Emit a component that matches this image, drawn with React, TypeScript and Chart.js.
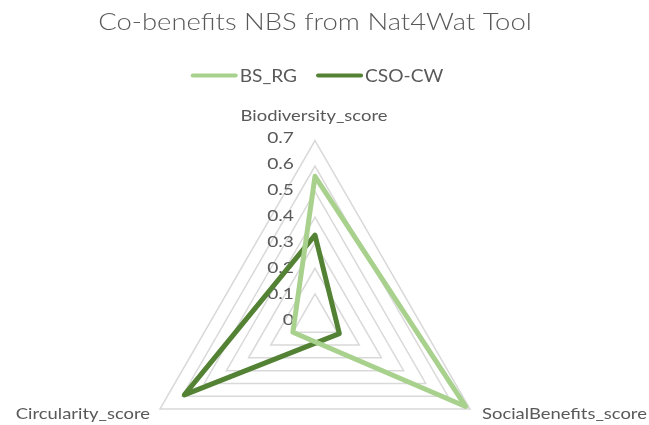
import React, { useEffect, useRef } from 'react';
import { Chart, registerables } from 'chart.js';

Chart.register(...registerables);

// ---- data ----
const chartTitle = 'Co-benefits NBS from Nat4Wat Tool';
const categories = ['Biodiversity_score', 'SocialBenefits_score', 'Circularity_score'];
const seriesNames = ['BS_RG', 'CSO-CW'];
const bsRgValues = [0.56, 0.68, 0.1];
const csoCwValues = [0.33, 0.11, 0.59];
const tickValues = [0, 0.1, 0.2, 0.3, 0.4, 0.5, 0.6, 0.7];
const tickLabels = ['0', '0.1', '0.2', '0.3', '0.4', '0.5', '0.6', '0.7'];

// ---- style ----
const FONT = 'Lato, "Open Sans", sans-serif';
const TEXT = '#595959';
const LIGHT_GREEN = '#A9D18E';
const DARK_GREEN = '#548235';
const GRID = '#D9D9D9';

// draw text with a horizontal stretch (the reference text is wider than the font)
function stretchedText(
  ctx: CanvasRenderingContext2D,
  text: string,
  x: number,
  y: number,
  font: string,
  align: 'left' | 'right' | 'center',
  sx: number
) {
  ctx.save();
  ctx.font = font;
  ctx.textAlign = 'left';
  ctx.textBaseline = 'alphabetic';
  const w = ctx.measureText(text).width * sx;
  const left = align === 'center' ? x - w / 2 : align === 'right' ? x - w : x;
  ctx.translate(left, y);
  ctx.scale(sx, 1);
  ctx.fillText(text, 0, 0);
  ctx.restore();
  return w;
}

const textPlugin = {
  id: 'excelRadarText',
  beforeDatasetsDraw(chart: any) {
    const scale = chart.scales.r;
    const ctx: CanvasRenderingContext2D = chart.ctx;
    ctx.save();
    ctx.fillStyle = TEXT;
    tickValues.forEach((v, i) => {
      const y = scale.yCenter - scale.getDistanceFromCenterForValue(v);
      stretchedText(ctx, tickLabels[i], scale.xCenter - 21, y + 5.5 - i * 0.4, `16px ${FONT}`, 'right', 1.2);
    });
    ctx.restore();
  },
  afterDraw(chart: any) {
    const scale = chart.scales.r;
    const ctx: CanvasRenderingContext2D = chart.ctx;
    const W = chart.width;
    ctx.save();
    ctx.fillStyle = TEXT;

    // title
    stretchedText(ctx, chartTitle, W / 2 - 9.5, 30, `300 22.5px ${FONT}`, 'center', 1.22);

    // legend
    const legendFont = `16.5px ${FONT}`;
    const lineLen = 47;
    const gapText = 2;
    const gapItem = 19;
    const sxL = 1.16;
    ctx.font = legendFont;
    const widths = seriesNames.map((n) => ctx.measureText(n).width * sxL);
    const total = widths.reduce((a, b) => a + b, 0) + seriesNames.length * (lineLen + gapText) + gapItem * (seriesNames.length - 1);
    let x = W / 2 - 7.5 - total / 2;
    const ly = 75.5;
    chart.data.datasets.forEach((ds: any, i: number) => {
      ctx.save();
      ctx.strokeStyle = ds.borderColor;
      ctx.lineWidth = 4;
      ctx.lineCap = 'round';
      ctx.beginPath();
      ctx.moveTo(x + 2, ly);
      ctx.lineTo(x + lineLen - 2, ly);
      ctx.stroke();
      ctx.restore();
      x += lineLen + gapText;
      ctx.fillStyle = TEXT;
      stretchedText(ctx, seriesNames[i], x, ly + 6, legendFont, 'left', sxL);
      x += widths[i] + gapItem;
    });

    // point labels
    const plFont = `16px ${FONT}`;
    const sxP = 1.15;
    categories.forEach((label, i) => {
      const p = scale.getPointPosition(i, scale.drawingArea);
      if (i === 0) {
        stretchedText(ctx, label, p.x - 1, p.y - 19.5, plFont, 'center', sxP);
      } else if (p.x > scale.xCenter) {
        stretchedText(ctx, label, p.x + 12, p.y + 10, plFont, 'left', sxP);
      } else {
        stretchedText(ctx, label, p.x - 10, p.y + 10, plFont, 'right', sxP);
      }
    });
    ctx.restore();
  },
};

export default function App() {
  const ref = useRef<HTMLCanvasElement | null>(null);

  useEffect(() => {
    if (!ref.current) return;
    const chart = new Chart(ref.current, {
      type: 'radar',
      data: {
        labels: categories,
        datasets: [
          {
            label: seriesNames[0],
            data: bsRgValues,
            borderColor: LIGHT_GREEN,
            backgroundColor: LIGHT_GREEN,
            borderWidth: 5,
            pointRadius: 0,
            fill: false,
            borderJoinStyle: 'round',
          },
          {
            label: seriesNames[1],
            data: csoCwValues,
            borderColor: DARK_GREEN,
            backgroundColor: DARK_GREEN,
            borderWidth: 5,
            pointRadius: 0,
            fill: false,
            borderJoinStyle: 'round',
          },
        ],
      },
      options: {
        responsive: false,
        animation: false,
        events: [],
        layout: { padding: 0 },
        plugins: {
          title: { display: false },
          legend: { display: false },
          tooltip: { enabled: false },
        },
        scales: {
          r: {
            min: 0,
            max: 0.7,
            ticks: { stepSize: 0.1, display: false },
            grid: { color: GRID, lineWidth: 1.5 },
            angleLines: { display: false },
            pointLabels: { display: false },
            afterFit: (scale: any) => {
              scale.xCenter = 315;
              scale.yCenter = 319.5;
              scale.drawingArea = 179;
            },
          },
        },
      },
      plugins: [textPlugin],
    });
    return () => chart.destroy();
  }, []);

  return (
    <div style={{ position: 'fixed', left: 0, top: 0, width: 649, height: 425, background: '#fff' }}>
      <canvas ref={ref} width={649} height={425} />
    </div>
  );
}
